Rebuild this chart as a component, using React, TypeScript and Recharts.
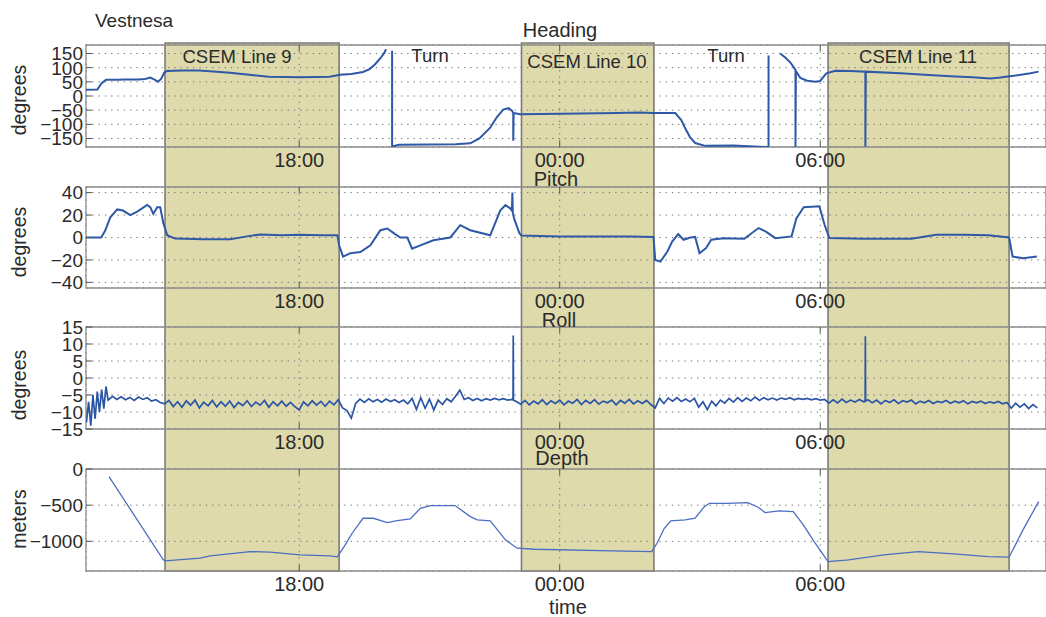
import React from "react";
import { LineChart, Line, XAxis, YAxis, CartesianGrid, ReferenceArea } from "recharts";

// time axis in hours since midnight of the first day (24 = 00:00 next day)
const X_MIN = 13.09;
const X_MAX = 35.2;
const TIME_TICKS = [18, 24, 30];
const TIME_LABELS = ["18:00", "00:00", "06:00"];

const CSEM_LINES = [
    { label: "CSEM Line 9", start: 14.91, end: 18.92 },
    { label: "CSEM Line 10", start: 23.12, end: 26.17 },
    { label: "CSEM Line 11", start: 30.18, end: 34.35 },
];

const HEADING_TICKS = [-150, -100, -50, 0, 50, 100, 150];
const PITCH_TICKS = [-40, -20, 0, 20, 40];
const ROLL_TICKS = [-15, -10, -5, 0, 5, 10, 15];
const DEPTH_TICKS = [-1000, -500, 0];

// [hours, degrees]; null = gap where the heading wrapped past ±180
const HEADING: [number, number | null][] = [
    [13.09, 22], [13.35, 23], [13.45, 45], [13.55, 57], [13.8, 57], [14.0, 58], [14.3, 58],
    [14.45, 60], [14.57, 65], [14.68, 57], [14.75, 50], [14.82, 60], [14.89, 82], [14.95, 88],
    [15.3, 90], [15.7, 90], [16.1, 86], [16.4, 82], [16.9, 74], [17.3, 68], [17.7, 67],
    [18.0, 66], [18.4, 67], [18.7, 68], [18.94, 75], [19.2, 78], [19.47, 85], [19.62, 95],
    [19.75, 112], [19.88, 135], [19.96, 152], [20.0, 165], [20.05, null], [20.14, 160],
    [20.14, -178], [20.3, -172], [21.0, -171], [21.6, -170], [21.94, -167], [22.15, -150],
    [22.4, -112], [22.55, -75], [22.7, -48], [22.82, -43], [22.9, -52], [22.93, -60],
    [22.93, -158], [22.94, -60], [23.09, -64], [24.0, -63], [24.5, -62], [25.3, -60],
    [25.86, -58], [26.13, -60], [26.66, -60], [26.8, -85], [26.89, -114], [27.0, -145],
    [27.12, -166], [27.35, -176], [28.0, -175], [28.74, -180], [28.81, -180], [28.81, 143],
    [28.9, null], [29.08, 150], [29.2, 135], [29.31, 119], [29.43, 92], [29.43, -180],
    [29.44, 88], [29.54, 64], [29.7, 54], [29.89, 50], [30.0, 53], [30.14, 80], [30.35, 89],
    [30.7, 88], [31.04, 86], [31.04, -178], [31.05, 86], [31.85, 80], [32.5, 74], [33.0, 70],
    [33.5, 66], [33.92, 62], [34.15, 65], [34.5, 72], [34.84, 80], [35.03, 86],
];

const PITCH: [number, number][] = [
    [13.09, 0], [13.44, 0], [13.53, 6], [13.65, 18], [13.81, 25], [13.94, 24], [14.11, 20],
    [14.27, 23], [14.5, 29], [14.57, 27], [14.64, 21], [14.73, 27], [14.8, 27], [14.87, 13],
    [14.96, 2], [15.14, -1], [15.8, -1.5], [16.41, -1.5], [16.8, 1], [17.1, 2.7], [17.6, 2],
    [18.02, 2.5], [18.5, 2], [18.88, 2], [18.92, -7], [19.01, -17], [19.18, -14], [19.41, -13],
    [19.64, -7], [19.87, 6.5], [20.03, 8], [20.21, 3], [20.33, 0], [20.49, 0], [20.6, -10],
    [20.79, -7], [21.09, -2.5], [21.48, 0], [21.71, 11], [21.94, 6.5], [22.4, 2], [22.63, 24],
    [22.75, 29], [22.86, 26], [22.9, 24], [22.91, 40], [22.92, 22], [22.95, 17], [23.07, 3.9],
    [23.12, 1.8], [24.0, 0.9], [24.94, 0.9], [25.6, 1], [26.16, 0.5], [26.2, -20], [26.32, -21.5],
    [26.48, -12.5], [26.59, -3.6], [26.73, 3], [26.85, -2], [27.01, 0], [27.12, 0.5],
    [27.22, -14], [27.37, -9.5], [27.49, -2], [27.77, -0.6], [28.25, -1.2], [28.58, 8.4],
    [28.74, 5.4], [28.97, -0.6], [29.34, 1], [29.45, 17], [29.62, 26.9], [29.98, 27.8],
    [30.1, 11.3], [30.21, -0.5], [31.0, -1.2], [32.1, -1.2], [32.67, 2.4], [33.3, 2.4],
    [33.88, 2], [34.35, 0], [34.43, -17], [34.67, -18.5], [34.99, -17],
];

const ROLL: [number, number][] = [
    [13.1, -13], [13.15, -7], [13.2, -14], [13.25, -5], [13.3, -12], [13.35, -4], [13.4, -10],
    [13.45, -3.4], [13.5, -9], [13.55, -2.5], [13.6, -6.5], [13.7, -5.4], [13.8, -6.3],
    [13.9, -5.5], [14.0, -6.4], [14.1, -5.7], [14.2, -6.6], [14.3, -5.6], [14.4, -6.3],
    [14.5, -5.8], [14.6, -6.8], [14.7, -6.4], [14.8, -7.2], [14.9, -7.6], [15.0, -6.6],
    [15.1, -8.4], [15.2, -7.0], [15.3, -8.6], [15.4, -6.7], [15.5, -8.0], [15.6, -6.5],
    [15.7, -8.8], [15.8, -7.1], [15.9, -8.2], [16.0, -6.6], [16.1, -8.5], [16.2, -7.0],
    [16.3, -8.3], [16.4, -6.8], [16.5, -8.7], [16.6, -7.2], [16.7, -8.1], [16.8, -6.7],
    [16.9, -8.4], [17.0, -7.1], [17.1, -8.0], [17.2, -6.6], [17.3, -8.6], [17.4, -7.0],
    [17.5, -8.2], [17.6, -6.8], [17.7, -8.3], [17.8, -7.2], [17.9, -8.4], [18.0, -9.4],
    [18.1, -7.0], [18.2, -8.2], [18.3, -6.7], [18.4, -8.0], [18.5, -6.9], [18.6, -8.3],
    [18.7, -6.8], [18.8, -7.9], [18.9, -6.4], [19.0, -8.8], [19.1, -9.6], [19.2, -11.8],
    [19.3, -7.5], [19.4, -6.2], [19.5, -7.2], [19.6, -6.1], [19.7, -7.0], [19.8, -6.3],
    [19.9, -7.1], [20.0, -6.2], [20.1, -6.9], [20.2, -6.4], [20.3, -7.2], [20.4, -6.5],
    [20.5, -7.6], [20.6, -6.0], [20.7, -9.2], [20.8, -5.8], [20.9, -8.9], [21.0, -6.2],
    [21.1, -9.4], [21.2, -6.5], [21.3, -7.8], [21.4, -6.1], [21.5, -7.0], [21.6, -5.4],
    [21.7, -3.6], [21.8, -6.3], [21.9, -5.8], [22.0, -6.6], [22.1, -6.0], [22.2, -6.7],
    [22.3, -6.1], [22.4, -6.5], [22.5, -6.0], [22.6, -6.4], [22.7, -6.1], [22.8, -6.5],
    [22.9, -6.3], [22.925, -6.4], [22.93, 12.5], [22.935, -6.5], [23.0, -6.9], [23.1, -7.7],
    [23.2, -6.6], [23.3, -7.9], [23.4, -6.8], [23.5, -7.6], [23.6, -6.4], [23.7, -7.8],
    [23.8, -6.7], [23.9, -7.5], [24.0, -6.5], [24.1, -7.9], [24.2, -6.8], [24.3, -7.4],
    [24.4, -6.3], [24.5, -7.8], [24.6, -6.6], [24.7, -7.5], [24.8, -6.4], [24.9, -7.7],
    [25.0, -6.8], [25.1, -7.3], [25.2, -6.5], [25.3, -7.9], [25.4, -6.6], [25.5, -7.4],
    [25.6, -6.3], [25.7, -7.6], [25.8, -6.7], [25.9, -7.5], [26.0, -6.6], [26.1, -7.8],
    [26.2, -8.8], [26.3, -6.0], [26.4, -7.5], [26.5, -5.9], [26.6, -6.8], [26.7, -5.8],
    [26.8, -6.9], [26.9, -6.2], [27.0, -7.0], [27.1, -6.0], [27.2, -8.6], [27.3, -7.0],
    [27.4, -9.3], [27.5, -6.8], [27.6, -8.2], [27.7, -6.5], [27.8, -7.4], [27.9, -6.0],
    [28.0, -7.1], [28.1, -5.8], [28.2, -6.9], [28.3, -5.9], [28.4, -6.7], [28.5, -5.6],
    [28.6, -6.6], [28.7, -5.8], [28.8, -6.4], [28.9, -5.9], [29.0, -6.5], [29.1, -5.9],
    [29.2, -6.3], [29.3, -5.8], [29.4, -6.4], [29.5, -6.0], [29.6, -6.3], [29.7, -6.0],
    [29.8, -6.4], [29.9, -6.1], [30.0, -6.5], [30.1, -6.3], [30.2, -7.4], [30.3, -6.4],
    [30.4, -7.3], [30.5, -6.2], [30.6, -7.2], [30.7, -6.5], [30.8, -7.1], [30.9, -6.3],
    [31.0, -7.0], [31.035, -6.8], [31.04, 12.3], [31.045, -6.8], [31.1, -6.4], [31.2, -7.3],
    [31.3, -6.5], [31.4, -7.6], [31.5, -6.6], [31.6, -7.2], [31.7, -6.4], [31.8, -7.5],
    [31.9, -6.7], [32.0, -7.1], [32.1, -6.5], [32.2, -7.6], [32.3, -6.8], [32.4, -7.3],
    [32.5, -6.6], [32.6, -7.5], [32.7, -6.9], [32.8, -7.2], [32.9, -6.6], [33.0, -7.4],
    [33.1, -6.8], [33.2, -7.3], [33.3, -6.7], [33.4, -7.6], [33.5, -6.9], [33.6, -7.3],
    [33.7, -6.8], [33.8, -7.5], [33.9, -7.0], [34.0, -7.4], [34.1, -6.9], [34.2, -7.6],
    [34.3, -7.2], [34.4, -8.9], [34.5, -7.4], [34.6, -8.6], [34.7, -7.6], [34.8, -9.0],
    [34.9, -7.8], [35.0, -8.8],
];

// [hours, meters]
const DEPTH: [number, number][] = [
    [13.62, -106], [14.87, -1255], [14.91, -1270], [15.72, -1232], [15.95, -1200],
    [16.87, -1141], [17.33, -1150], [18.02, -1187], [18.71, -1201], [18.88, -1215],
    [19.06, -1049], [19.22, -888], [19.47, -681], [19.71, -681], [20.03, -741], [20.26, -713],
    [20.56, -690], [20.79, -543], [21.02, -505], [21.59, -505], [21.94, -658], [22.1, -704],
    [22.4, -718], [22.75, -980], [23.02, -1095], [23.43, -1109], [25.2, -1132], [26.12, -1141],
    [26.24, -1026], [26.41, -819], [26.56, -718], [26.89, -704], [27.12, -681], [27.33, -520],
    [27.45, -474], [27.85, -474], [28.33, -465], [28.57, -529], [28.73, -603], [29.05, -580],
    [29.38, -589], [29.61, -773], [29.86, -1003], [30.18, -1279], [30.66, -1256],
    [31.46, -1187], [32.26, -1141], [33.07, -1173], [33.87, -1210], [34.35, -1219],
    [34.67, -842], [35.03, -451],
];

const FONT = "'Liberation Sans', Arial, Helvetica, sans-serif";
const INK = "#2a2a2a";
const W = 1046;
const LEFT = 86;
const PAD = 10;

const fmt = (v: number) => (v < 0 ? `\u2212${Math.abs(v)}` : `${v}`);

function TimeTick({ x, y, payload, plotHeight }: any) {
    const idx = TIME_TICKS.indexOf(payload.value);
    return (
        <g>
            <line x1={x} x2={x} y1={y} y2={y - 6} stroke="#555" />
            <line x1={x} x2={x} y1={y - plotHeight} y2={y - plotHeight + 6} stroke="#555" />
            <text x={x} y={y + 20} textAnchor="middle" fontSize={20} fontFamily={FONT} fill={INK}>
                {TIME_LABELS[idx]}
            </text>
        </g>
    );
}

function ValueTick({ x, y, payload }: any) {
    return (
        <g>
            <line x1={x} x2={x + 6} y1={y} y2={y} stroke="#555" />
            <text x={x - 3} y={y} dy="0.36em" textAnchor="end" fontSize={19} fontFamily={FONT} fill={INK}>
                {fmt(payload.value)}
            </text>
        </g>
    );
}

interface PanelProps {
    top: number;
    plotHeight: number;
    rows: [number, number | null][];
    domain: [number, number];
    ticks: number[];
    strokeWidth: number;
    color: string;
}

function Panel({ top, plotHeight, rows, domain, ticks, strokeWidth, color }: PanelProps) {
    const data = rows.map(([t, v]) => ({ t, v }));
    return (
        <div style={{ position: "absolute", left: 0, top: top - PAD }}>
            <LineChart
                width={W}
                height={plotHeight + PAD + 30}
                data={data}
                margin={{ top: PAD, right: 0, bottom: 0, left: 0 }}
            >
                <XAxis
                    dataKey="t"
                    type="number"
                    domain={[X_MIN, X_MAX]}
                    ticks={TIME_TICKS}
                    interval={0}
                    allowDataOverflow
                    height={30}
                    axisLine={false}
                    tickLine={false}
                    tickSize={0}
                    tickMargin={0}
                    tick={<TimeTick plotHeight={plotHeight} />}
                />
                <YAxis
                    type="number"
                    domain={domain}
                    ticks={ticks}
                    interval={0}
                    allowDataOverflow
                    width={LEFT}
                    axisLine={false}
                    tickLine={false}
                    tickSize={0}
                    tickMargin={0}
                    tick={<ValueTick />}
                />
                <CartesianGrid stroke="#6f6f6f" strokeDasharray="1.3 5" fill="none" />
                <ReferenceArea
                    x1={X_MIN}
                    x2={X_MAX}
                    y1={domain[0]}
                    y2={domain[1]}
                    fill="none"
                    stroke="#8c8c8c"
                    strokeWidth={1.3}
                    ifOverflow="visible"
                />
                <Line
                    dataKey="v"
                    type="linear"
                    stroke={color}
                    strokeWidth={strokeWidth}
                    dot={false}
                    activeDot={false}
                    connectNulls={false}
                    isAnimationActive={false}
                />
            </LineChart>
        </div>
    );
}

const labelStyle = { fontFamily: FONT, fill: INK } as const;

export default function App() {
    return (
        <div style={{ position: "absolute", left: 0, top: 0, width: W, height: 617, background: "#fff" }}>
            {/* survey lines: shaded bands through all four panels */}
            <div style={{ position: "absolute", left: 0, top: 0 }}>
                <LineChart width={W} height={617} data={[]} margin={{ top: 43, right: 0, bottom: 46, left: LEFT }}>
                    <XAxis type="number" dataKey="t" domain={[X_MIN, X_MAX]} hide allowDataOverflow />
                    <YAxis type="number" domain={[0, 1]} hide allowDataOverflow />
                    {CSEM_LINES.map((c) => (
                        <ReferenceArea
                            key={c.label}
                            x1={c.start}
                            x2={c.end}
                            y1={0}
                            y2={1}
                            fill="#dedaac"
                            fillOpacity={1}
                            stroke="#7c7c76"
                            strokeWidth={1.6}
                            ifOverflow="visible"
                        />
                    ))}
                </LineChart>
            </div>

            <Panel top={45} plotHeight={102} rows={HEADING} domain={[-180, 180]} ticks={HEADING_TICKS} strokeWidth={2} color="#2f59a6" />
            <Panel top={187} plotHeight={101} rows={PITCH} domain={[-45, 45]} ticks={PITCH_TICKS} strokeWidth={2} color="#2f59a6" />
            <Panel top={327} plotHeight={102} rows={ROLL} domain={[-15, 15]} ticks={ROLL_TICKS} strokeWidth={1.7} color="#2b55a5" />
            <Panel top={469} plotHeight={102} rows={DEPTH} domain={[-1410, 0]} ticks={DEPTH_TICKS} strokeWidth={1.3} color="#4a6ec0" />

            <svg width={W} height={617} style={{ position: "absolute", left: 0, top: 0, pointerEvents: "none" }}>
                <text x={95} y={27} fontSize={19} {...labelStyle}>Vestnesa</text>
                <text x={560} y={37} fontSize={20} textAnchor="middle" {...labelStyle}>Heading</text>
                <text x={237} y={63} fontSize={18.5} textAnchor="middle" {...labelStyle}>{CSEM_LINES[0].label}</text>
                <text x={430} y={62} fontSize={18.5} textAnchor="middle" {...labelStyle}>Turn</text>
                <text x={587} y={68} fontSize={18.5} textAnchor="middle" {...labelStyle}>{CSEM_LINES[1].label}</text>
                <text x={726} y={62} fontSize={18.5} textAnchor="middle" {...labelStyle}>Turn</text>
                <text x={918} y={63} fontSize={18.5} textAnchor="middle" {...labelStyle}>{CSEM_LINES[2].label}</text>
                <text x={556} y={186} fontSize={20} textAnchor="middle" {...labelStyle}>Pitch</text>
                <text x={559} y={327} fontSize={20} textAnchor="middle" {...labelStyle}>Roll</text>
                <text x={562} y={465} fontSize={20} textAnchor="middle" {...labelStyle}>Depth</text>
                <text x={568} y={614} fontSize={20} textAnchor="middle" {...labelStyle}>time</text>
                <text transform="translate(19,100) rotate(-90)" dy="0.35em" fontSize={19.5} textAnchor="middle" {...labelStyle}>degrees</text>
                <text transform="translate(19,242) rotate(-90)" dy="0.35em" fontSize={19.5} textAnchor="middle" {...labelStyle}>degrees</text>
                <text transform="translate(19,385) rotate(-90)" dy="0.35em" fontSize={19.5} textAnchor="middle" {...labelStyle}>degrees</text>
                <text transform="translate(19,519) rotate(-90)" dy="0.35em" fontSize={19.5} textAnchor="middle" {...labelStyle}>meters</text>
            </svg>
        </div>
    );
}
